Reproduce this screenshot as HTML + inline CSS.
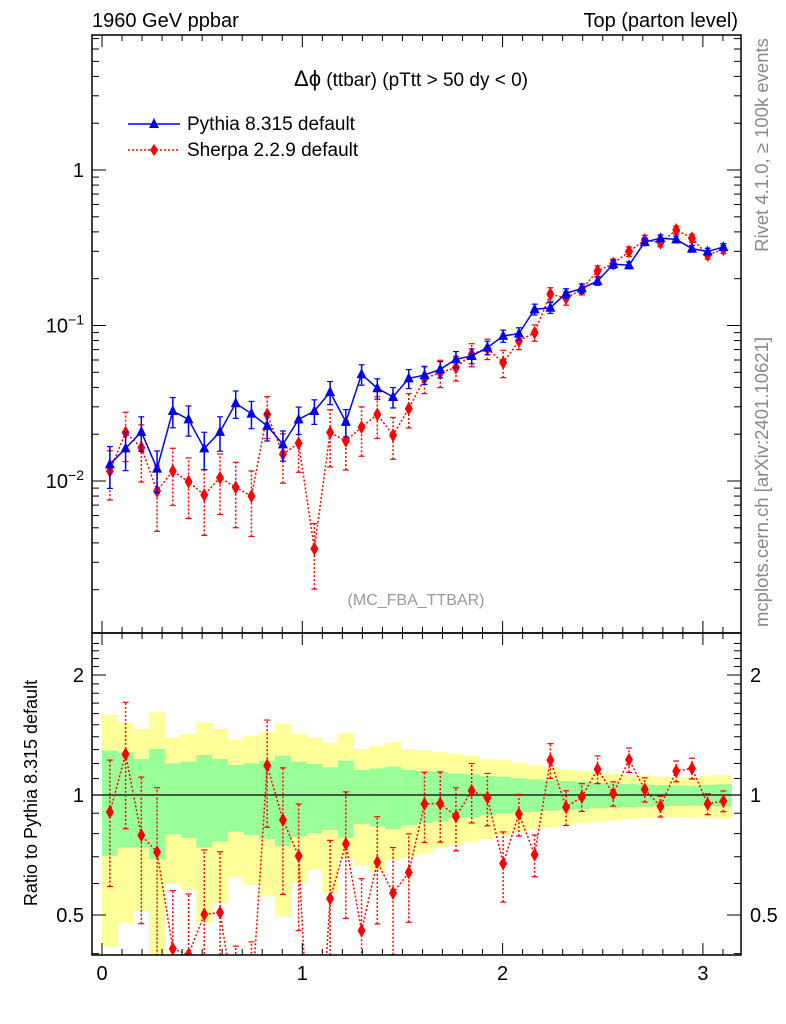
<!DOCTYPE html>
<html><head><meta charset="utf-8"><style>
html,body{margin:0;padding:0;background:#fff;overflow:hidden;}
svg{display:block;}
svg text{font-family:"Liberation Sans",sans-serif;}
</style></head><body>
<svg id="chart" width="786" height="1024" xmlns="http://www.w3.org/2000/svg">
<g id="bands"></g>
<g id="marks"></g>
<g id="axes"></g>
<text x="92" y="27" font-size="20">1960 GeV ppbar</text>
<text x="738" y="27" font-size="20" text-anchor="end">Top (parton level)</text>
<text x="411" y="86" font-size="19" text-anchor="middle"><tspan font-size="22">Δϕ</tspan> (ttbar) (pTtt &gt; 50 dy &lt; 0)</text>
<g>
<line x1="128" y1="124" x2="180" y2="124" stroke="#0000ee" stroke-width="1.5"/>
<polygon points="154,118 159,128 149,128" fill="#0000ee"/>
<text x="187" y="130" font-size="19">Pythia 8.315 default</text>
<line x1="128" y1="150" x2="180" y2="150" stroke="#ff0000" stroke-width="1.5" stroke-dasharray="2,2"/>
<polygon points="154,144 158,150 154,156 150,150" fill="#ff0000"/>
<text x="187" y="156" font-size="19">Sherpa 2.2.9 default</text>
</g>
<text x="416" y="605" font-size="16" fill="#999" text-anchor="middle">(MC_FBA_TTBAR)</text>
<text transform="translate(768,145) rotate(-90)" font-size="18.5" fill="#888" text-anchor="middle">Rivet 4.1.0, ≥ 100k events</text>
<text transform="translate(768,482) rotate(-90)" font-size="18.5" fill="#888" text-anchor="middle">mcplots.cern.ch [arXiv:2401.10621]</text>
<text transform="translate(37,793) rotate(-90)" font-size="18" text-anchor="middle">Ratio to Pythia 8.315 default</text>
</svg>
<script>
const pythia=[0.0128,0.0162,0.0207,0.0120,0.0282,0.0249,0.0162,0.0207,0.0316,0.0271,0.0226,0.0172,0.0249,0.0282,0.0373,0.0240,0.0486,0.0395,0.0347,0.0457,0.048,0.0523,0.0607,0.0637,0.0721,0.0857,0.0887,0.127,0.130,0.161,0.173,0.193,0.248,0.244,0.344,0.364,0.358,0.312,0.299,0.320];
const sherpa=[0.0116,0.0205,0.0164,0.00863,0.0116,0.0099,0.00813,0.0105,0.0091,0.0080,0.0268,0.0149,0.0175,0.00367,0.0205,0.0181,0.0222,0.0268,0.0197,0.0292,0.0456,0.0498,0.0536,0.0653,0.071,0.0577,0.0795,0.090,0.159,0.150,0.171,0.224,0.250,0.299,0.355,0.341,0.411,0.364,0.284,0.309];
const pythiaRelErr=[0.3,0.28,0.25,0.3,0.22,0.22,0.27,0.25,0.2,0.2,0.2,0.22,0.2,0.18,0.17,0.2,0.15,0.15,0.15,0.14,0.13,0.12,0.12,0.11,0.1,0.09,0.09,0.08,0.08,0.07,0.07,0.06,0.06,0.05,0.05,0.05,0.05,0.05,0.05,0.05];
const sherpaRelErr=[0.35,0.35,0.4,0.45,0.4,0.42,0.45,0.42,0.45,0.45,0.3,0.35,0.35,0.45,0.4,0.35,0.35,0.3,0.3,0.25,0.2,0.2,0.18,0.17,0.15,0.2,0.12,0.12,0.1,0.1,0.08,0.08,0.07,0.07,0.07,0.06,0.06,0.06,0.06,0.06];
const yellowHi=[1.587,1.521,1.464,1.612,1.395,1.422,1.521,1.464,1.374,1.406,1.442,1.507,1.422,1.395,1.353,1.428,1.304,1.330,1.356,1.304,1.292,1.279,1.267,1.253,1.231,1.224,1.205,1.185,1.171,1.160,1.151,1.137,1.129,1.122,1.116,1.112,1.107,1.107,1.118,1.122];
const greenHi=[1.292,1.279,1.231,1.304,1.200,1.212,1.260,1.231,1.189,1.200,1.219,1.255,1.212,1.196,1.173,1.219,1.155,1.166,1.178,1.155,1.149,1.142,1.133,1.127,1.116,1.112,1.101,1.095,1.089,1.084,1.080,1.074,1.070,1.066,1.061,1.059,1.057,1.055,1.061,1.064];
const greenLo=[0.704,0.738,0.738,0.691,0.797,0.781,0.738,0.764,0.809,0.794,0.776,0.745,0.786,0.802,0.817,0.781,0.846,0.833,0.820,0.841,0.849,0.857,0.874,0.879,0.889,0.900,0.903,0.908,0.913,0.917,0.922,0.926,0.929,0.931,0.935,0.937,0.938,0.940,0.938,0.935];
const yellowLo=[0.416,0.477,0.510,0.39,0.600,0.578,0.478,0.535,0.622,0.595,0.556,0.495,0.603,0.648,0.569,0.694,0.667,0.642,0.687,0.700,0.714,0.735,0.745,0.764,0.776,0.794,0.809,0.820,0.830,0.841,0.849,0.857,0.862,0.870,0.875,0.879,0.881,0.877,0.874,0.874];
const xTicks=[0,1,2,3];
const mainTicks=[["1",0],["10","-1"],["10","-2"]];
const ratioTicks=[2,1,0.5];

const NS="http://www.w3.org/2000/svg";
const L=92,R=741,T=35,MB=633,B=955;
const X0=102,XS=200.3;
const nb=pythia.length, bw=Math.PI/nb;
function X(v){return X0+v*XS;}
function YM(v){return 170-155.5*Math.log10(v);}
function YR(r){return 795-120*Math.log2(r);}
function mk(tag,attrs,parent){const e=document.createElementNS(NS,tag);for(const k in attrs)e.setAttribute(k,attrs[k]);parent.appendChild(e);return e;}
const bands=document.getElementById('bands'),marks=document.getElementById('marks'),axes=document.getElementById('axes');
const clipD=mk('defs',{},marks);
const c1=mk('clipPath',{id:'cm'},clipD);mk('rect',{x:L,y:T,width:R-L,height:MB-T},c1);
const c2=mk('clipPath',{id:'cr'},clipD);mk('rect',{x:L,y:MB,width:R-L,height:B-MB},c2);
bands.setAttribute('clip-path','url(#cr)');
for(let i=0;i<nb;i++){
  const x1=X(i*bw),x2=X((i+1)*bw);
  const y=mk('rect',{x:x1,y:YR(yellowHi[i]),width:x2-x1+0.5,height:YR(yellowLo[i])-YR(yellowHi[i]),fill:'#ffff99'},bands);
  
  
  const g=mk('rect',{x:x1,y:YR(greenHi[i]),width:x2-x1+0.5,height:YR(greenLo[i])-YR(greenHi[i]),fill:'#99ff99'},bands);
  
  
}
mk('line',{x1:L,y1:YR(1),x2:R,y2:YR(1),stroke:'#000','stroke-width':1.2},bands);
const gm=mk('g',{'clip-path':'url(#cm)'},marks);
const gr=mk('g',{'clip-path':'url(#cr)'},marks);
function series(parent,vals,errs,yf,color,dash,shape,name){
  let pts=vals.map((v,i)=>X((i+0.5)*bw)+','+yf(v)).join(' ');
  const pl=mk('polyline',{points:pts,fill:'none',stroke:color,'stroke-width':1.5},parent);
  if(dash)pl.setAttribute('stroke-dasharray','2,2');
  
  
  vals.forEach((v,i)=>{
    const cx=X((i+0.5)*bw),cy=yf(v);
    const lo=Math.max(v*(1-errs[i]),1e-6),hi=v*(1+errs[i]);
    const e=mk('line',{x1:cx,y1:yf(lo),x2:cx,y2:yf(hi),stroke:color,'stroke-width':1.5},parent);
    if(dash)e.setAttribute('stroke-dasharray','2,2');
    
    
    mk('line',{x1:cx-3,y1:yf(lo),x2:cx+3,y2:yf(lo),stroke:color,'stroke-width':1.2},parent);
    mk('line',{x1:cx-3,y1:yf(hi),x2:cx+3,y2:yf(hi),stroke:color,'stroke-width':1.2},parent);
    let p;
    if(shape==='tri')p=mk('polygon',{points:`${cx},${cy-6} ${cx+5},${cy+4} ${cx-5},${cy+4}`,fill:color},parent);
    else p=mk('polygon',{points:`${cx},${cy-7} ${cx+4},${cy} ${cx},${cy+7} ${cx-4},${cy}`,fill:color},parent);
    
    
  });
}
series(gm,sherpa,sherpaRelErr,YM,'#ff0000',true,'dia','sherpa');
series(gm,pythia,pythiaRelErr,YM,'#0000ee',false,'tri','pythia');
const ratio=sherpa.map((v,i)=>v/pythia[i]);
series(gr,ratio,sherpaRelErr,YR,'#ff0000',true,'dia','ratio');
mk('rect',{x:L,y:T,width:R-L,height:MB-T,fill:'none',stroke:'#000','stroke-width':1.5},axes);
mk('rect',{x:L,y:MB,width:R-L,height:B-MB,fill:'none',stroke:'#000','stroke-width':1.5},axes);
for(let k=0;k<=32;k++){
  const v=k/10;const x=X(v);if(x<L||x>R)continue;
  const len=(k%10===0)?12:6;
  [[T,1],[MB,-1],[MB,1],[B,-1]].forEach(([y,d])=>mk('line',{x1:x,y1:y,x2:x,y2:y+d*len,stroke:'#000'},axes));
}
xTicks.forEach(v=>{const t=mk('text',{x:X(v),y:980,'font-size':20,'text-anchor':'middle'},axes);t.textContent=v;
  
  });
for(let d=-3;d<=1;d++){for(let m=1;m<10;m++){
  const v=m*Math.pow(10,d);const y=YM(v);if(y<T||y>MB)continue;
  const len=m===1?14:7;
  mk('line',{x1:L,y1:y,x2:L+len,y2:y,stroke:'#000'},axes);
  mk('line',{x1:R,y1:y,x2:R-len,y2:y,stroke:'#000'},axes);
}}
mainTicks.forEach(([b,e])=>{
  const v=e===0?1:Math.pow(10,+e);const y=YM(v);
  const t=mk('text',{x:84,y:y+7,'font-size':20,'text-anchor':'end'},axes);
  if(e===0)t.textContent=b;else{t.textContent=b;const s=mk('tspan',{dy:-8,'font-size':14},t);s.textContent='−'+(-e);}
  
  
});
for(let r=0.4;r<=2.5;r+=0.1){const y=YR(r);if(y<MB||y>B)continue;
  const major=Math.abs(r-0.5)<1e-6||Math.abs(r-1)<1e-6||Math.abs(r-2)<1e-6;const len=major?14:7;
  mk('line',{x1:L,y1:y,x2:L+len,y2:y,stroke:'#000'},axes);mk('line',{x1:R,y1:y,x2:R-len,y2:y,stroke:'#000'},axes);}
ratioTicks.forEach(r=>{const y=YR(r);
  const a=mk('text',{x:84,y:y+7,'font-size':20,'text-anchor':'end'},axes);a.textContent=r;
  
  
  const b=mk('text',{x:750,y:y+7,'font-size':20},axes);b.textContent=r;
  
  });
</script>
</body></html>
